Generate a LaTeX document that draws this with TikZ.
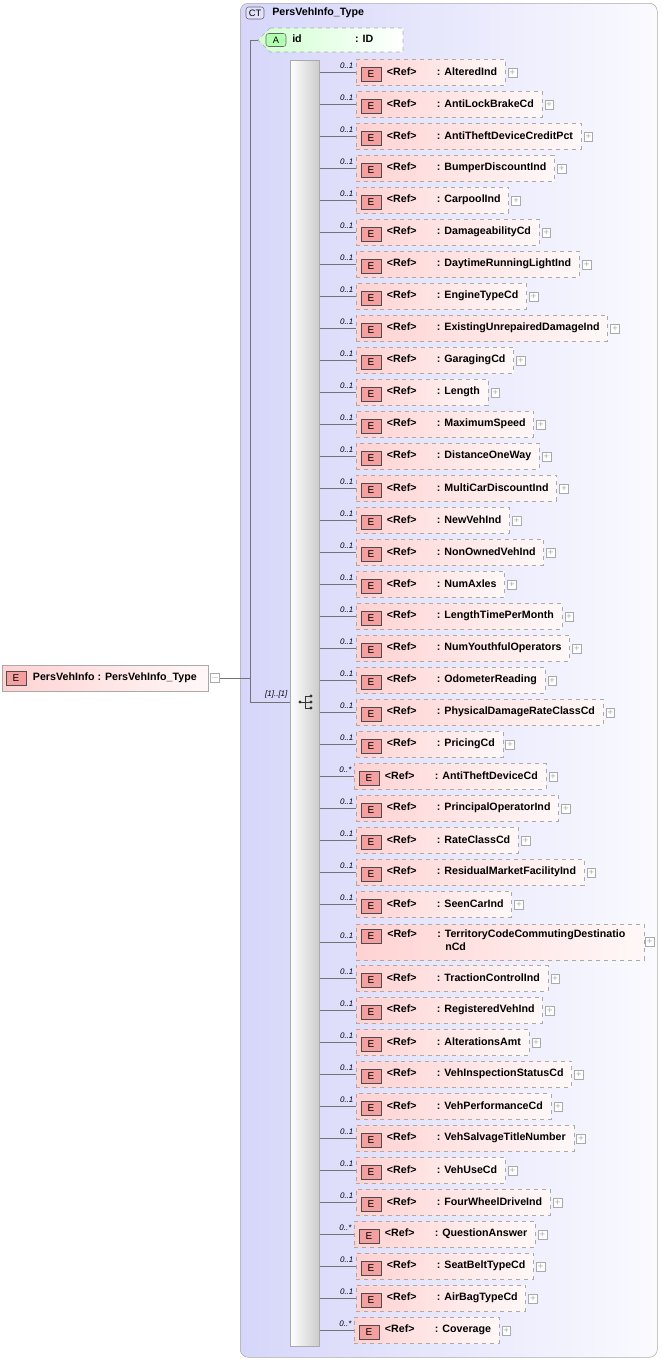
\documentclass[tikz,border=0pt]{standalone}
\usepackage{fontspec}
\setmainfont{Liberation Sans}
\usetikzlibrary{calc}
\definecolor{elL}{RGB}{255,210,210}
\definecolor{elR}{RGB}{255,248,248}
\definecolor{ctL}{RGB}{214,214,250}
\definecolor{ctR}{RGB}{250,250,255}
\definecolor{bord}{RGB}{170,170,170}
\definecolor{eic}{RGB}{245,160,160}
\begin{document}
\begin{tikzpicture}[x=0.75pt,y=-0.75pt,
  elbox/.style={draw=bord,dashed,left color=elL,right color=elR,minimum height=19.5pt,inner xsep=0pt,inner ysep=0pt,anchor=west,font=\fontsize{8}{9.5}\selectfont\bfseries},
  eicon/.style={draw=black!70,fill=eic,minimum width=15pt,minimum height=10.5pt,inner sep=0pt,font=\fontsize{7.5}{8}\selectfont},
  plus/.style={draw=bord,fill=white,minimum size=6.5pt,inner sep=0pt,font=\fontsize{7}{7}\selectfont\color{bord}},
  mult/.style={font=\fontsize{6}{7}\selectfont\itshape,inner sep=1pt,anchor=south east},
  conn/.style={draw=black!55,line width=0.5pt}]
\useasboundingbox (0,0) rectangle (661,1360);
% container
\node[draw=bord,rounded corners=6pt,left color=ctL,right color=ctR,minimum width=312.75pt,minimum height=1015.5pt,anchor=north west,inner sep=0pt] (ct) at (240,3) {};
\node[draw=black!60,fill=ctL!70,rounded corners=2pt,minimum width=13.5pt,minimum height=9pt,inner sep=0pt,font=\fontsize{7}{8}\selectfont] (cti) at (255,13) {CT};
\node[anchor=west,font=\fontsize{8}{9.5}\selectfont\bfseries,inner sep=0pt] (ctt) at (272,13) {PersVehInfo\_Type};
% attribute
\draw[bord,dashed,left color=green!18,right color=white] (270,28) -- (403,28) -- (403,52) -- (270,52) -- (258,40) -- cycle;
\node[draw=black!60,fill=green!30,rounded corners=2pt,minimum width=15pt,minimum height=9.75pt,inner sep=0pt,font=\fontsize{7}{8}\selectfont] (ai) at (276,40) {A};
\node[anchor=west,font=\fontsize{8}{9.5}\selectfont\bfseries,inner sep=0pt] (at) at (292,39) {id\hspace{40pt}: ID};
\coordinate (attr) at (258,40);
% sequence bar
\node[draw=bord,left color=white,right color=black!20,minimum width=21.75pt,minimum height=964.5pt,anchor=north west,inner sep=0pt] (bar) at (290,60) {};
% left element
\node[elbox,solid] (pv) at (2,678) {\hspace*{23pt}PersVehInfo : PersVehInfo\_Type\hspace*{9pt}};
\node[eicon] at (16,678) {E};
\node[plus] (pvm) at ($(pv.east)+(6,0)$) {$-$};
% trunk
\coordinate (tr) at (250,678);
\coordinate (tt) at (250,40);
\coordinate (tb) at (250,702);
\draw[conn] (pvm.east) -- (tr);
\draw[conn] (attr) -- (tt) -- (tb) -- (bar.west |- tb);
\node[mult] at (289,700) {[1]..[1]};
% sequence icon
\draw[black!80,line width=0.6pt] (300,702) -- (305,702) (305,696) -- (305,708) (305,696) -- (310,696) (305,702) -- (310,702) (305,708) -- (310,708);
\fill[black!80] (300,702) circle (1.6) (311,696) circle (1.6) (311,702) circle (1.6) (311,708) circle (1.6);
% elements
\foreach \n/\y/\m/\sx in {AlteredInd/71/1/356,AntiLockBrakeCd/103/1/356,AntiTheftDeviceCreditPct/135/1/356,BumperDiscountInd/167/1/356,CarpoolInd/199/1/356,DamageabilityCd/231/1/356,DaytimeRunningLightInd/263/1/356,EngineTypeCd/295/1/356,ExistingUnrepairedDamageInd/327/1/356,GaragingCd/359/1/356,Length/391/1/356,MaximumSpeed/423/1/356,DistanceOneWay/455/1/356,MultiCarDiscountInd/487/1/356,NewVehInd/519/1/356,NonOwnedVehInd/551/1/356,NumAxles/583/1/356,LengthTimePerMonth/615/1/356,NumYouthfulOperators/647/1/356,OdometerReading/679/1/356,PhysicalDamageRateClassCd/711/1/356,PricingCd/743/1/356,AntiTheftDeviceCd/775/*/354,PrincipalOperatorInd/807/1/356,RateClassCd/839/1/356,ResidualMarketFacilityInd/871/1/356,SeenCarInd/903/1/356,TractionControlInd/977/1/356,RegisteredVehInd/1009/1/356,AlterationsAmt/1041/1/356,VehInspectionStatusCd/1073/1/356,VehPerformanceCd/1105/1/356,VehSalvageTitleNumber/1137/1/356,VehUseCd/1169/1/356,FourWheelDriveInd/1201/1/356,QuestionAnswer/1233/*/354,SeatBeltTypeCd/1265/1/356,AirBagTypeCd/1297/1/356,Coverage/1329/*/354}{
  \node[elbox] (\n) at (\sx,\y+1) {\hspace*{23pt}\makebox[37.5pt][l]{<Ref>}: \n\hspace*{6pt}};
  \node[eicon] at (\sx+15,\y+3) {E};
  \node[plus] at ($(\n.east)+(7,1)$) {+};
  \draw[conn] (bar.east |- \n.west) -- (\n.west);
  \node[mult] at (\sx-1,\y-1) {0..\m};
}
% tall element
\node[elbox,minimum height=27pt,minimum width=216pt] (Territory) at (356,942) {};
\node[anchor=north west,inner sep=0pt,font=\fontsize{8}{10}\selectfont\bfseries,align=left] at (387,929) {\makebox[37.5pt][l]{<Ref>}: TerritoryCodeCommutingDestinatio\\\hspace*{37.5pt}\hspace*{6pt}nCd};
\node[eicon] at (371,936) {E};
\node[plus] at ($(Territory.east)+(5,0)$) {+};
\draw[conn] (bar.east |- Territory.west) -- (Territory.west);
\node[mult] at (355,940) {0..1};
\end{tikzpicture}
\end{document}
